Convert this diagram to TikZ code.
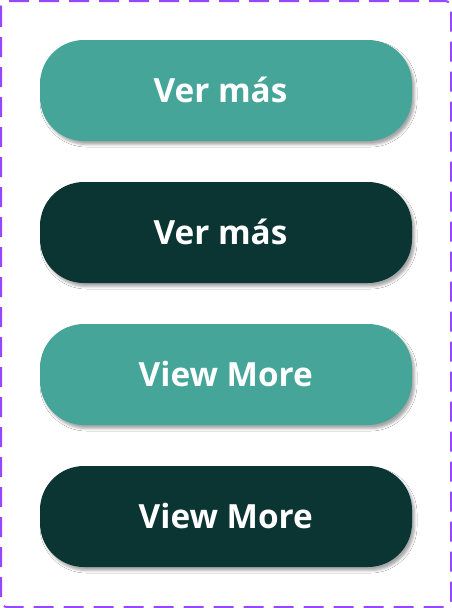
\documentclass[tikz,border=0pt]{standalone}
\usepackage{fontspec}
\setmainfont{Open Sans}
\usetikzlibrary{shadows.blur}
\definecolor{teal1}{HTML}{44A598}
\definecolor{dark1}{HTML}{0A3532}
\definecolor{frame1}{HTML}{9747FF}
\begin{document}
\begin{tikzpicture}[x=1pt,y=-1pt,
  btn/.style={rounded corners=44pt, blur shadow={shadow xshift=2.5pt, shadow yshift=-3.5pt, shadow blur radius=2.5pt, shadow opacity=35}},
  lbl/.style={anchor=base, text=white, inner sep=0pt, font=\fontsize{33.3}{33.3}\selectfont\bfseries}]
\useasboundingbox (0,0) rectangle (452,608);
\fill[white] (0,0) rectangle (452,608);
\draw[frame1, line width=2pt, dash pattern=on 20pt off 10pt, rounded corners=6pt] (1,1) rectangle (451,607);
\foreach \y/\c/\t/\n/\x in {40/teal1/Ver más/a/220.5, 182/dark1/Ver más/b/220.5, 324/teal1/View More/c/225.8, 466/dark1/View More/d/225.8}{
  \fill[btn, \c] (40,\y) rectangle (412,\y+101);
  \node[lbl] (\n) at (\x,\y+62.3) {\t};
}
\end{tikzpicture}
\end{document}
